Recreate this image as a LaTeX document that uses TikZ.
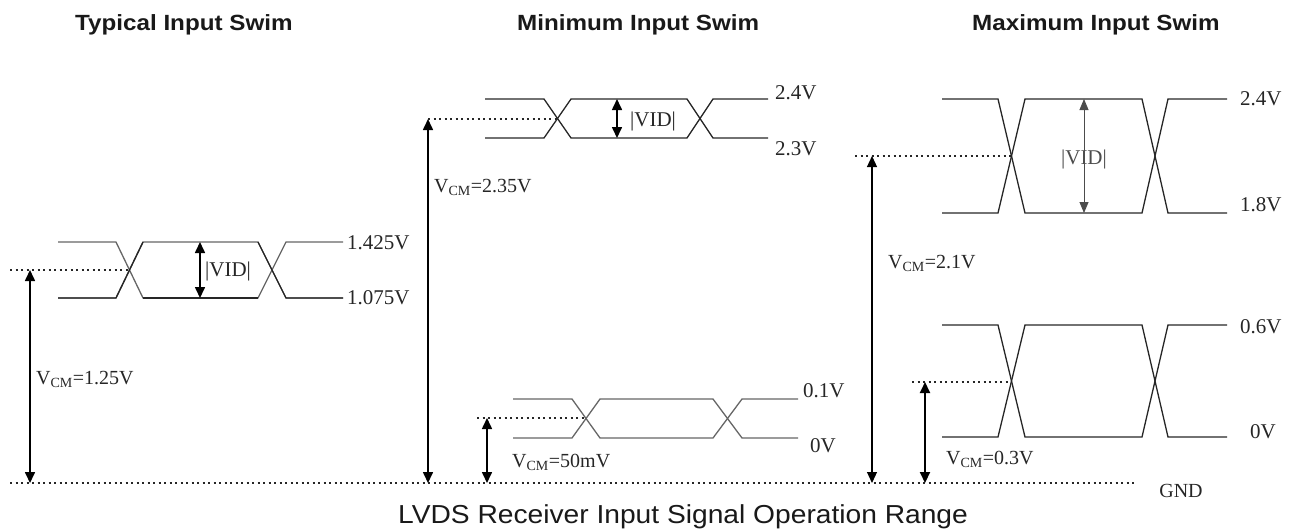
\documentclass[tikz,border=0pt]{standalone}
\usepackage{fontspec}
\setmainfont{Liberation Serif}
\setsansfont{Liberation Sans}
\usetikzlibrary{arrows.meta}
\newcommand\eyepat[9]{% style x0 x1 x2 x3 x4 x5 ytop ybot
  \draw[#1] (#2,#8)--(#3,#8)--(#4,#9)--(#5,#9)--(#6,#8)--(#7,#8);
  \draw[#1] (#2,#9)--(#3,#9)--(#4,#8)--(#5,#8)--(#6,#9)--(#7,#9);}
\tikzset{
  sig/.style={line width=1.3pt, draw=black!85},
  siggray/.style={line width=1.3pt, draw=black!60},
  dotline/.style={line width=1.3pt, dash pattern=on 2pt off 3.5pt, draw=black!85},
  vcmarrow/.style={line width=1.6pt, {Triangle[length=11pt,width=10pt]}-{Triangle[length=11pt,width=10pt]}},
  thinarrow/.style={line width=0.9pt, draw=black!70, -{Triangle[length=11pt,width=9pt]}},
  lbl/.style={font=\fontsize{21}{24}\selectfont, anchor=west, inner sep=0pt, text=black!85},
  vcmlbl/.style={font=\fontsize{20}{24}\selectfont, anchor=west, inner sep=0pt, text=black!85},
  ttl/.style={font=\sffamily\bfseries\fontsize{22}{26}\selectfont, anchor=base west, inner sep=0pt, text=black!90},
  captext/.style={font=\sffamily\fontsize{26}{32}\selectfont, anchor=base west, inner sep=0pt, text=black!90}
}
\begin{document}
\begin{tikzpicture}[x=1pt,y=-1pt]
\path[use as bounding box] (0,0) rectangle (1299,531);

% titles
\node[ttl] (t1) at (75,30) {\scalebox{1.1}[1]{Typical Input Swim}};
\node[ttl] (t2) at (517,30) {\scalebox{1.1}[1]{Minimum Input Swim}};
\node[ttl] (t3) at (972,30) {\scalebox{1.1}[1]{Maximum Input Swim}};
\node[captext] (caption) at (398,523) {\scalebox{1.084}[1]{LVDS Receiver Input Signal Operation Range}};

% ground line
\coordinate (g0) at (10,483);
\coordinate (g1) at (1137,483);
\draw[dotline] (g0) -- (g1);
\node[font=\fontsize{20}{24}\selectfont, text=black!85] (gnd) at (1181,491) {GND};

% ===== Typical =====
\eyepat{siggray}{58}{116}{143}{258}{286}{343}{242}{298}
\draw[sig] (58,298)--(116,298)--(143,242);
\draw[sig] (143,298)--(258,298);
\draw[sig] (258,242)--(286,298)--(343,298);
\node[lbl] (a1) at (347,243) {1.425V};
\node[lbl] (a2) at (347,298) {1.075V};
\coordinate (avt) at (200,242);
\coordinate (avb) at (200,298);
\draw[vcmarrow] (avt) -- (avb);
\node[lbl] (avid) at (205,271) {|VID|};
\coordinate (ad0) at (10,270);
\coordinate (ad1) at (130,270);
\draw[dotline] (ad0) -- (ad1);
\coordinate (acm) at (30,270);
\coordinate (acg) at (30,483);
\draw[vcmarrow] (acm) -- (acg);
\node[vcmlbl] (avcm) at (36,379) {V\textsubscript{CM}=1.25V};

% ===== Minimum top =====
\eyepat{sig}{485}{544}{571}{687}{713}{768}{99}{138}
\node[lbl] (b1) at (775,93) {2.4V};
\node[lbl] (b2) at (775,149) {2.3V};
\coordinate (bvt) at (617,99);
\coordinate (bvb) at (617,138);
\draw[vcmarrow] (bvt) -- (bvb);
\node[lbl] (bvid) at (630,121) {|VID|};
\coordinate (bd0) at (428,119);
\coordinate (bd1) at (557,119);
\draw[dotline] (bd0) -- (bd1);
\coordinate (bcg) at (428,483);
\draw[vcmarrow] (bd0) -- (bcg);
\node[vcmlbl] (bvcm) at (434,187) {V\textsubscript{CM}=2.35V};

% ===== Minimum bottom =====
\eyepat{siggray}{513}{572}{600}{713}{742}{798}{399}{438}
\node[lbl] (c1) at (803,391) {0.1V};
\node[lbl] (c2) at (810,446) {0V};
\coordinate (cd0) at (477,418);
\coordinate (cd1) at (586,418);
\draw[dotline] (cd0) -- (cd1);
\coordinate (ccm) at (487,418);
\coordinate (ccg) at (487,483);
\draw[vcmarrow] (ccm) -- (ccg);
\node[vcmlbl] (cvcm) at (512,462) {V\textsubscript{CM}=50mV};

% ===== Maximum top =====
\eyepat{sig}{942}{998}{1025}{1142}{1168}{1227}{99}{213}
\node[lbl] (d1) at (1240,99) {2.4V};
\node[lbl] (d2) at (1240,205) {1.8V};
\node[font=\fontsize{21}{24}\selectfont, inner sep=0pt, text=black!70] (dvid) at (1084,159) {|VID|};
\coordinate (dvt) at (1084,99);
\coordinate (dvb) at (1084,213);
\draw[thinarrow] ([yshift=-12pt]dvid.north) -- (dvt);
\draw[thinarrow] ([yshift=12pt]dvid.south) -- (dvb);
\coordinate (dd0) at (855,156);
\coordinate (dd1) at (1012,156);
\draw[dotline] (dd0) -- (dd1);
\coordinate (dcm) at (872,156);
\coordinate (dcg) at (872,483);
\draw[vcmarrow, line width=1.2pt] (dcm) -- (dcg);
\node[vcmlbl] (dvcm) at (888,263) {V\textsubscript{CM}=2.1V};

% ===== Maximum bottom =====
\eyepat{sig}{942}{998}{1025}{1142}{1168}{1227}{325}{437}
\node[lbl] (e1) at (1240,327) {0.6V};
\node[lbl] (e2) at (1250,432) {0V};
\coordinate (ed0) at (912,382);
\coordinate (ed1) at (1012,382);
\draw[dotline] (ed0) -- (ed1);
\coordinate (ecm) at (925,382);
\coordinate (ecg) at (925,483);
\draw[vcmarrow, line width=2pt] (ecm) -- (ecg);
\node[vcmlbl] (evcm) at (946,459) {V\textsubscript{CM}=0.3V};
\end{tikzpicture}
\end{document}
